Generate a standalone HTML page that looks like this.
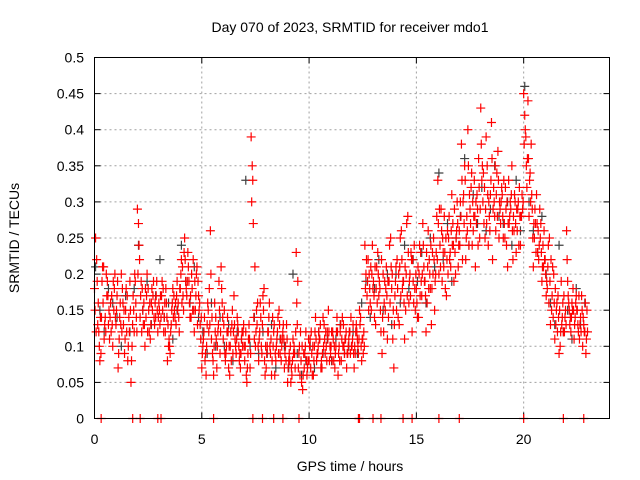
<!DOCTYPE html>
<html><head><meta charset="utf-8"><style>
body{margin:0;background:#fff;}
svg{display:block;font-family:"Liberation Sans",sans-serif;}
</style></head><body>
<svg id="chart" width="640" height="480" viewBox="0 0 640 480">
<rect width="640" height="480" fill="#fff"/>
<text x="350" y="32" font-size="14" text-anchor="middle">Day 070 of 2023, SRMTID for receiver mdo1</text>
<g id="grid"></g>
<g id="ticks"></g>
<g id="marks"></g>
<rect x="94.5" y="57.5" width="515" height="361" fill="none" stroke="#000" stroke-width="1"/>
<text x="350" y="471" font-size="14" text-anchor="middle">GPS time / hours</text>
<text x="0" y="0" font-size="14" text-anchor="middle" transform="translate(19,238) rotate(-90)">SRMTID / TECUs</text>
</svg>
<script>
const xTicks=[0,5,10,15,20];
const yTicks=[0,0.05,0.1,0.15,0.2,0.25,0.3,0.35,0.4,0.45,0.5];
const yTickLabels=["0","0.05","0.1","0.15","0.2","0.25","0.3","0.35","0.4","0.45","0.5"];
const redA=[.18,.22,.12,.09,.16,.14,.19,.11,.17,.15,
.13,.07,.16,.18,.09,.12,.14,.05,.17,.19,
.29,.22,.12,.16,.14,.18,.11,.15,.13,.19,
.16,.14,.18,.12,.08,.10,.15,.17,.13,.16,
.18,.21,.25,.17,.19,.14,.22,.15,.13,.16,
.07,.12,.06,.15,.26,.09,.16,.07,.19,.21,
.11,.08,.14,.06,.13,.17,.09,.12,.07,.10,
.08,.05,.13,.39,.27,.10,.16,.12,.09,.18,
.07,.12,.09,.14,.06,.11,.15,.08,.13,.10,
.05,.08,.06,.10,.23,.07,.12,.04,.09,.06,
.08,.12,.06,.14,.09,.11,.07,.13,.10,.15,
.09,.12,.07,.14,.10,.08,.13,.11,.09,.12,
.10,.07,.13,.09,.14,.11,.24,.17,.20,.15,
.19,.13,.23,.18,.09,.16,.21,.14,.25,.11,
.17,.22,.13,.26,.19,.15,.28,.20,.12,.24,
.18,.14,.23,.27,.19,.16,.22,.13,.25,.20,
.33,.24,.19,.28,.17,.25,.21,.27,.23,.30,
.26,.38,.31,.22,.40,.29,.24,.33,.27,.36,
.43,.30,.25,.35,.28,.41,.32,.26,.37,.29,
.31,.27,.24,.33,.29,.22,.30,.26,.32,.28,
.45,.39,.44,.34,.29,.25,.31,.22,.27,.24,
.22,.18,.25,.15,.20,.13,.17,.10,.14,.12,
.26,.16,.12,.18,.14,.15,.11,.17,.13,.09];
const redB=[.25,.13,.08,.19,.11,.20,.13,.16,.10,.20,
.17,.11,.20,.13,.15,.08,.19,.10,.12,.14,
.27,.17,.15,.10,.20,.12,.16,.19,.14,.12,
.13,.19,.14,.16,.10,.12,.18,.14,.19,.12,
.22,.15,.19,.23,.14,.18,.12,.20,.17,.11,
.10,.08,.13,.18,.11,.06,.14,.12,.09,.16,
.15,.10,.07,.12,.09,.11,.14,.08,.11,.13,
.12,.09,.07,.35,.11,.15,.08,.14,.17,.06,
.10,.16,.06,.12,.08,.14,.09,.11,.07,.13,
.08,.05,.11,.07,.13,.10,.05,.09,.12,.08,
.11,.06,.10,.08,.12,.07,.14,.09,.12,.08,
.12,.08,.10,.06,.12,.14,.09,.07,.11,.14,
.13,.09,.11,.15,.08,.12,.20,.22,.16,.24,
.14,.21,.17,.12,.20,.15,.11,.24,.18,.07,
.21,.14,.25,.18,.11,.27,.16,.23,.19,.15,
.14,.24,.17,.21,.12,.26,.18,.23,.15,.28,
.20,.29,.23,.18,.26,.22,.31,.19,.25,.21,
.30,.22,.35,.28,.24,.32,.26,.21,.29,.25,
.33,.27,.39,.24,.31,.22,.28,.34,.25,.30,
.25,.32,.21,.28,.35,.26,.23,.30,.24,.29,
.42,.32,.28,.38,.21,.27,.23,.29,.19,.26,
.17,.24,.13,.21,.11,.16,.09,.19,.12,.15,
.19,.13,.16,.11,.17,.12,.14,.10,.12,.15];
const redC=[.15,.19,.10,.14,.21,.12,.17,.14,.13,.18,
.15,.09,.13,.16,.11,.17,.12,.08,.15,.16,
.20,.14,.18,.13,.17,.15,.13,.17,.16,.15,
.15,.17,.12,.18,.13,.09,.16,.15,.17,.14,
.20,.17,.22,.19,.16,.20,.15,.17,.19,.13,
.09,.14,.10,.12,.20,.08,.12,.10,.15,.18,
.13,.09,.12,.10,.15,.13,.11,.10,.09,.12,
.10,.07,.11,.30,.14,.12,.10,.16,.13,.08,
.09,.14,.11,.10,.09,.12,.13,.10,.11,.08,
.07,.10,.08,.09,.16,.09,.08,.06,.10,.07,
.10,.09,.08,.11,.10,.13,.09,.11,.08,.12,
.10,.11,.09,.12,.08,.11,.10,.12,.10,.09,
.11,.10,.12,.11,.10,.09,.18,.19,.18,.20,
.17,.18,.20,.15,.14,.19,.17,.19,.21,.15,
.19,.18,.21,.22,.16,.20,.23,.17,.22,.18,
.16,.20,.19,.24,.17,.21,.20,.18,.22,.23,
.27,.21,.25,.23,.22,.28,.26,.24,.20,.27,
.24,.33,.27,.25,.35,.27,.30,.28,.31,.32,
.38,.34,.29,.31,.26,.36,.30,.31,.33,.27,
.28,.25,.30,.27,.31,.28,.27,.29,.28,.31,
.38,.35,.36,.30,.25,.29,.27,.24,.23,.21,
.20,.21,.19,.17,.16,.15,.14,.12,.16,.14,
.22,.15,.14,.15,.16,.13,.13,.15,.12,.11];
const redD=[.12,.16,.14,.21,.13,.17,.15,.12,.19,.14,
.19,.14,.12,.15,.18,.10,.15,.13,.20,.12,
.24,.19,.13,.18,.12,.16,.18,.14,.17,.14,
.17,.15,.16,.14,.11,.13,.14,.16,.15,.18,
.16,.23,.18,.21,.17,.15,.19,.21,.15,.14,
.11,.09,.16,.13,.14,.10,.11,.13,.12,.14,
.09,.12,.10,.08,.12,.10,.13,.09,.12,.10,
.06,.11,.09,.33,.21,.13,.11,.10,.15,.10,
.12,.10,.08,.13,.10,.09,.11,.12,.09,.11,
.09,.07,.09,.12,.19,.06,.10,.07,.08,.11,
.07,.10,.12,.09,.11,.08,.10,.12,.11,.10,
.08,.10,.12,.09,.13,.10,.11,.09,.12,.10,
.09,.12,.10,.13,.11,.10,.22,.15,.21,.18,
.21,.16,.19,.22,.12,.18,.19,.16,.20,.13,
.15,.20,.17,.19,.21,.17,.19,.22,.16,.20,
.21,.17,.20,.19,.23,.18,.24,.20,.19,.22,
.29,.26,.21,.25,.20,.23,.24,.29,.26,.24,
.28,.30,.33,.26,.31,.34,.28,.30,.24,.29,
.35,.32,.27,.30,.33,.29,.35,.28,.30,.32,
.33,.29,.27,.30,.26,.31,.29,.24,.28,.30,
.40,.36,.33,.31,.27,.23,.26,.25,.21,.22,
.19,.16,.22,.14,.18,.12,.15,.13,.17,.13,
.17,.14,.15,.13,.15,.17,.12,.14,.16,.12];
const grayVals=[.21,.15,.12,.18,.16,.14,.10,.17,.12,.18,.24,.15,.19,.13,.17,.22,.14,.16,.11,.15,
.24,.19,.16,.21,.14,.12,.09,.16,.10,.14,.10,.13,.08,.12,.11,.33,.10,.14,.09,.12,
.09,.13,.07,.11,.10,.07,.20,.09,.06,.08,.10,.07,.12,.09,.11,.08,.11,.13,.09,.10,
.12,.09,.16,.19,.14,.18,.22,.15,.20,.13,.20,.16,.24,.18,.22,.19,.23,.16,.25,.21,
.34,.22,.27,.19,.25,.28,.36,.24,.31,.27,.32,.26,.29,.35,.28,.27,.30,.24,.33,.26,
.46,.30,.26,.23,.28,.20,.16,.13,.24,.12,.15,.11,.18,.13,.16];
const zeroTimes=[0.31,1.78,2.13,2.95,3.1,5.55,7.38,7.83,8.35,8.78,9.53,12.3,12.35,12.98,13.35,14.38,14.8,16.05,17.0,20.0,21.85,22.8];
const redStep=0.1, grayStep=0.2;

const X0=94.5,X1=609.5,Y0=418.5,Y1=57.5,XMAX=24,YMAX=0.5;
const sx=t=>X0+(X1-X0)*t/XMAX;
const sy=v=>Y0-(Y0-Y1)*v/YMAX;
const NS="http://www.w3.org/2000/svg";
const grid=document.getElementById('grid'),ticks=document.getElementById('ticks'),marks=document.getElementById('marks');
function line(p,x1,y1,x2,y2,st,dash){const l=document.createElementNS(NS,'line');l.setAttribute('x1',x1);l.setAttribute('y1',y1);l.setAttribute('x2',x2);l.setAttribute('y2',y2);l.setAttribute('stroke',st);if(dash)l.setAttribute('stroke-dasharray',dash);p.appendChild(l);return l;}
function txt(p,x,y,s,anchor){const t=document.createElementNS(NS,'text');t.setAttribute('x',x);t.setAttribute('y',y);t.setAttribute('font-size','14');t.setAttribute('text-anchor',anchor);t.textContent=s;p.appendChild(t);return t;}
xTicks.forEach(t=>{const x=sx(t);
 if(t>0){const g=line(grid,x,Y0,x,Y1,'#a0a0a0','2,3');
 
 }
 line(ticks,x,Y0,x,Y0-6,'#000');line(ticks,x,Y1,x,Y1+6,'#000');
 const l=txt(ticks,x,444,String(t),'middle');
 
 });
yTicks.forEach((v,i)=>{const y=sy(v);
 if(v>0&&v<0.5){const g=line(grid,X0,y,X1,y,'#a0a0a0','2,3');
 
 }
 line(ticks,X0,y,X0+6,y,'#000');line(ticks,X1,y,X1-6,y,'#000');
 const l=txt(ticks,84,y+5,yTickLabels[i],'end');
 
 });
function plus(t,v,col,name){const x=sx(t),y=sy(v);const p=document.createElementNS(NS,'path');
 p.setAttribute('d',`M${x-4.5},${y}H${x+4.5}M${x},${y-4.5}V${y+4.5}`);p.setAttribute('stroke',col);p.setAttribute('stroke-width','1.2');p.setAttribute('fill','none');
 
 
 marks.appendChild(p);}
grayVals.forEach((v,i)=>plus(i*grayStep+0.05,v,'#404040','gray-point'));
redA.forEach((v,i)=>plus(i*redStep,v,'#ff0000','red-point'));
redB.forEach((v,i)=>plus(i*redStep+0.05,v,'#ff0000','red-point'));
redC.forEach((v,i)=>plus(i*redStep+0.025,v,'#ff0000','red-point'));
redD.forEach((v,i)=>plus(i*redStep+0.075,v,'#ff0000','red-point'));
zeroTimes.forEach(t=>plus(t,0,'#ff0000','zero-point'));
</script>
</body></html>
